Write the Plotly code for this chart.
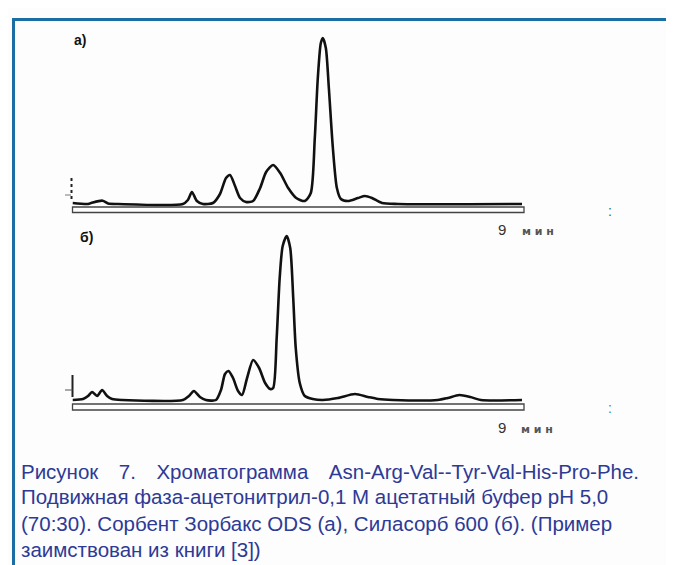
import plotly.graph_objects as go

# ---------------- data ----------------
# chromatogram (а): time, min  /  detector signal, arb. units
time_a = [0.00, 0.31, 0.40, 0.60, 0.71, 0.91, 2.20, 2.30, 2.38, 2.48, 2.60, 2.80, 2.94, 3.06,
          3.14, 3.24, 3.34, 3.46, 3.60, 3.74, 3.86, 4.00, 4.14, 4.30, 4.46, 4.63, 4.75, 4.83,
          4.89, 4.95, 4.99, 5.05, 5.11, 5.19, 5.27, 5.35, 5.49, 5.69, 5.83, 5.97, 6.17, 6.49, 8.96]
signal_a = [1, 0, 1.5, 3.3, 0.5, 0, 0, 4, 12, 3, 0, 1, 10, 26,
            29, 18, 6, 2, 3, 16, 32, 39, 31, 16, 6, 3, 11, 66,
            126, 161, 166, 156, 116, 56, 16, 5, 3, 6, 8, 6, 1, 0, 0]

# chromatogram (б)
time_b = [0.00, 0.21, 0.31, 0.39, 0.49, 0.59, 0.69, 0.79, 0.99, 2.20, 2.32, 2.42, 2.54, 2.66,
          2.86, 2.96, 3.04, 3.11, 3.20, 3.30, 3.38, 3.48, 3.60, 3.72, 3.84, 3.94, 4.00, 4.07,
          4.13, 4.19, 4.27, 4.34, 4.40, 4.45, 4.53, 4.63, 4.79, 4.99, 5.29, 5.63, 5.89, 6.09,
          6.39, 7.28, 7.48, 7.71, 7.93, 8.14, 8.96]
signal_b = [0, 1, 4, 8, 4, 10, 4, 1, 0, 0, 4, 9, 3, 0,
            0, 10, 26, 29, 22, 9, 5, 22, 40, 32, 17, 11, 12, 62,
            122, 154, 164, 152, 102, 52, 17, 4, 1, 0, 2, 6, 3, 1,
            0, 0, 2, 5, 3, 0, 0]

panel_labels = ["а)", "б)"]
time_unit_labels = ["9", "м\u00a0и\u00a0н"]
caption_lines = [
    "Рисунок\u2002\u20027.\u2002\u2002Хроматограмма\u2002\u2002Asn-Arg-Val--Tyr-Val-His-Pro-Phe.",
    "Подвижная фаза-ацетонитрил-0,1 М ацетатный буфер pH 5,0",
    "(70:30). Сорбент Зорбакс ODS (а), Силасорб 600 (б). (Пример",
    "заимствован из книги [3])",
]

# ---------------- layout helpers ----------------
W, H = 674, 565
def px(x):
    return x / W
def py(y):
    return 1 - y / H

X0, X1 = 64.5, 516
fig = go.Figure()

fig.add_trace(go.Scatter(x=time_a, y=signal_a, mode="lines", xaxis="x", yaxis="y",
                         line=dict(color="#111", width=2.6, shape="spline", smoothing=0.7),
                         showlegend=False, hoverinfo="skip"))
fig.add_trace(go.Scatter(x=time_b, y=signal_b, mode="lines", xaxis="x2", yaxis="y2",
                         line=dict(color="#111", width=2.6, shape="spline", smoothing=0.7),
                         showlegend=False, hoverinfo="skip"))

ax_common = dict(showgrid=False, zeroline=False, showticklabels=False, ticks="", showline=False)
fig.update_layout(
    width=W, height=H,
    margin=dict(l=0, r=0, t=0, b=0),
    paper_bgcolor="#fdfdfd", plot_bgcolor="rgba(0,0,0,0)",
    xaxis=dict(domain=[px(X0), px(X1)], range=[0, 9], **ax_common),
    yaxis=dict(domain=[py(210), py(25)], range=[-14, 171], **ax_common),
    xaxis2=dict(domain=[px(X0), px(X1)], range=[0, 9], anchor="y2", **ax_common),
    yaxis2=dict(domain=[py(406), py(222)], range=[-14, 170], anchor="x2", **ax_common),
)

shapes = []
# blue frame
shapes.append(dict(type="line", xref="paper", yref="paper", x0=px(4), x1=1, y0=py(11.5), y1=py(11.5),
                   line=dict(color="#1b6ea3", width=3)))
shapes.append(dict(type="line", xref="paper", yref="paper", x0=px(5.5), x1=px(5.5), y0=py(10), y1=0,
                   line=dict(color="#1b6ea3", width=3)))
# time axes (double-line bar)
for (top, bot) in [(199, 204.5), (396, 402)]:
    shapes.append(dict(type="rect", xref="paper", yref="paper", x0=px(X0), x1=px(X1),
                       y0=py(bot), y1=py(top), line=dict(color="#444", width=1.3)))
# injection marks
shapes.append(dict(type="line", xref="paper", yref="paper", x0=px(63.5), x1=px(63.5), y0=py(191), y1=py(168),
                   line=dict(color="#222", width=2, dash="dot")))
shapes.append(dict(type="line", xref="paper", yref="paper", x0=px(57), x1=px(63), y0=py(187), y1=py(187),
                   line=dict(color="#777", width=1)))
shapes.append(dict(type="line", xref="paper", yref="paper", x0=px(64.5), x1=px(64.5), y0=py(389), y1=py(367),
                   line=dict(color="#222", width=2)))
shapes.append(dict(type="line", xref="paper", yref="paper", x0=px(57), x1=px(64.5), y0=py(382), y1=py(382),
                   line=dict(color="#555", width=1)))
fig.update_layout(shapes=shapes)

ann = []
def text(x, y, s, size, color="#111", xanchor="center", family="Liberation Sans, Arial, sans-serif"):
    ann.append(dict(x=px(x), y=py(y), xref="paper", yref="paper", text=s, showarrow=False,
                    xanchor=xanchor, yanchor="middle", font=dict(size=size, color=color, family=family)))

text(72, 32, "<b>" + panel_labels[0] + "</b>", 14)
text(78, 229, "<b>" + panel_labels[1] + "</b>", 14)
text(494, 221, time_unit_labels[0], 15, color="#333")
text(512, 223, "<b>" + time_unit_labels[1] + "</b>", 11, color="#555", xanchor="left",
     family="DejaVu Sans, sans-serif")
text(494, 419, time_unit_labels[0], 15, color="#333")
text(511, 421, "<b>" + time_unit_labels[1] + "</b>", 11, color="#555", xanchor="left",
     family="DejaVu Sans, sans-serif")
text(602, 203, ":", 14, color="#2b6b78")
text(602, 400, ":", 14, color="#2f8e9c")

for i, line in enumerate(caption_lines):
    text(11, 463 + 26 * i, line, 20.5, color="#2d3a96", xanchor="left")
fig.update_layout(annotations=ann)

fig.write_html("out.html")
